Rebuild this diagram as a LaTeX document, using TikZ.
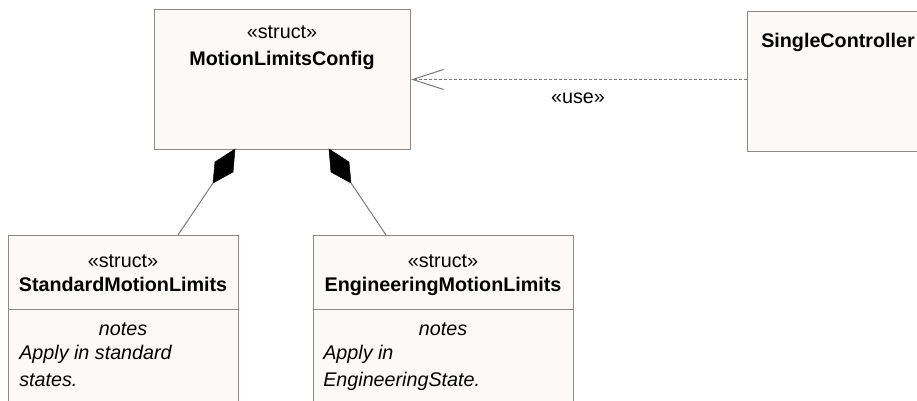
\documentclass[tikz,border=0pt]{standalone}
\usepackage{fontspec}
\setmainfont{Liberation Sans}
\usetikzlibrary{arrows.meta}
\definecolor{boxfill}{HTML}{FCF9F7}
\definecolor{boxline}{HTML}{8A8A8A}
\definecolor{linkline}{HTML}{7A7A7A}
\newcommand{\umlsize}{\fontsize{14.8}{17}\selectfont}
\begin{document}
\begin{tikzpicture}[x=0.75pt,y=-0.75pt,
  umlbox/.style={draw=boxline, fill=boxfill, line width=0.75pt, rectangle, inner sep=0pt, anchor=north west},
  txt/.style={inner sep=0pt, anchor=base, font=\umlsize},
  ltxt/.style={txt, anchor=base west},
  boldtxt/.style={font=\umlsize\bfseries},
  ittxt/.style={font=\umlsize\itshape},
  divider/.style={draw=boxline, line width=0.75pt},
  uselink/.style={draw=linkline, line width=0.75pt, dash pattern=on 2.25pt off 1.5pt,
    -{Straight Barb[length=23.25pt,width=15pt,line width=0.75pt]}},
  complink/.style={draw=linkline, line width=0.75pt},
  compdiamond/.style={fill=black, draw=black, line width=0.4pt}]
\useasboundingbox (0,0) rectangle (917,400);
% boxes
\node[umlbox, minimum width=192pt, minimum height=105pt] (mlc) at (154,9) {};
\node[umlbox, minimum width=165pt, minimum height=105pt] (sc) at (747,11) {};
\node[umlbox, minimum width=172.5pt, minimum height=150pt] (std) at (8,235) {};
\node[umlbox, minimum width=195pt, minimum height=150pt] (eng) at (313,235) {};
% dividers
\draw[divider] (8,309) -- (238,309);
\draw[divider] (313,309) -- (573,309);
% texts
\node[txt] (mlcst) at (282,38) {«struct»};
\node[txt, boldtxt] (mlcname) at (282,65) {MotionLimitsConfig};
\node[ltxt, boldtxt] (scname) at (761,47) {SingleController};
\node[txt] (stdst) at (123,267) {«struct»};
\node[txt, boldtxt] (stdname) at (123,291) {StandardMotionLimits};
\node[txt, ittxt] (stdnotes) at (123,335) {notes};
\node[ltxt, ittxt] (stdn1) at (19,359) {Apply in standard};
\node[ltxt, ittxt] (stdn2) at (19,386) {states.};
\node[txt] (engst) at (443,267) {«struct»};
\node[txt, boldtxt] (engname) at (443,291) {EngineeringMotionLimits};
\node[txt, ittxt] (engnotes) at (443,335) {notes};
\node[ltxt, ittxt] (engn1) at (323,359) {Apply in};
\node[ltxt, ittxt] (engn2) at (323,386) {EngineeringState.};
% use dependency
\draw[uselink] (sc.west |- mlc.east) -- (mlc.east);
\node[txt] (uselbl) at (578,103) {«use»};
% compositions
\coordinate (d1top) at (235,149);
\coordinate (d1bot) at (213,183);
\coordinate (d2top) at (329,149);
\coordinate (d2bot) at (351,183);
\coordinate (c1end) at (178,235);
\coordinate (c2end) at (386,235);
\filldraw[compdiamond] (d1top) -- (215,162) -- (d1bot) -- (233,172) -- cycle;
\filldraw[compdiamond] (d2top) -- (349,162) -- (d2bot) -- (331,172) -- cycle;
\draw[complink] (c1end) -- (d1bot);
\draw[complink] (c2end) -- (d2bot);
\end{tikzpicture}
\end{document}
